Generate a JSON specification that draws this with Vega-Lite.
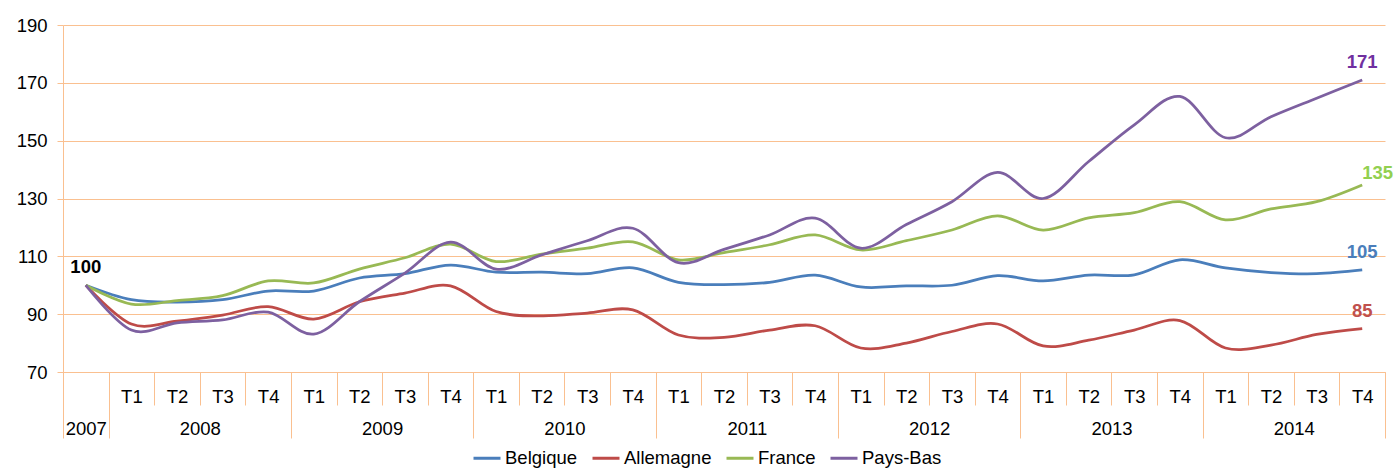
{
  "$schema": "https://vega.github.io/schema/vega-lite/v6.json",
  "width": 1322,
  "height": 347,
  "autosize": {"type": "none"},
  "padding": {"left": 63, "top": 25, "right": 11, "bottom": 101},
  "background": "white",
  "config": {"view": {"stroke": null}, "font": "Liberation Sans"},
  "datasets": {
    "indices": [
      {"idx":0,"periode":"2007","serie":"Belgique","valeur":100},{"idx":0,"periode":"2007","serie":"Allemagne","valeur":100},{"idx":0,"periode":"2007","serie":"France","valeur":100},{"idx":0,"periode":"2007","serie":"Pays-Bas","valeur":100},
      {"idx":1,"periode":"2008 T1","serie":"Belgique","valeur":95.0},{"idx":1,"periode":"2008 T1","serie":"Allemagne","valeur":86.6},{"idx":1,"periode":"2008 T1","serie":"France","valeur":93.5},{"idx":1,"periode":"2008 T1","serie":"Pays-Bas","valeur":84.5},
      {"idx":2,"periode":"2008 T2","serie":"Belgique","valeur":94.2},{"idx":2,"periode":"2008 T2","serie":"Allemagne","valeur":87.6},{"idx":2,"periode":"2008 T2","serie":"France","valeur":94.7},{"idx":2,"periode":"2008 T2","serie":"Pays-Bas","valeur":87.0},
      {"idx":3,"periode":"2008 T3","serie":"Belgique","valeur":95.0},{"idx":3,"periode":"2008 T3","serie":"Allemagne","valeur":89.7},{"idx":3,"periode":"2008 T3","serie":"France","valeur":96.4},{"idx":3,"periode":"2008 T3","serie":"Pays-Bas","valeur":88.0},
      {"idx":4,"periode":"2008 T4","serie":"Belgique","valeur":98.0},{"idx":4,"periode":"2008 T4","serie":"Allemagne","valeur":92.6},{"idx":4,"periode":"2008 T4","serie":"France","valeur":101.5},{"idx":4,"periode":"2008 T4","serie":"Pays-Bas","valeur":90.7},
      {"idx":5,"periode":"2009 T1","serie":"Belgique","valeur":98.0},{"idx":5,"periode":"2009 T1","serie":"Allemagne","valeur":88.3},{"idx":5,"periode":"2009 T1","serie":"France","valeur":100.8},{"idx":5,"periode":"2009 T1","serie":"Pays-Bas","valeur":83.1},
      {"idx":6,"periode":"2009 T2","serie":"Belgique","valeur":102.5},{"idx":6,"periode":"2009 T2","serie":"Allemagne","valeur":94.3},{"idx":6,"periode":"2009 T2","serie":"France","valeur":105.6},{"idx":6,"periode":"2009 T2","serie":"Pays-Bas","valeur":94.3},
      {"idx":7,"periode":"2009 T3","serie":"Belgique","valeur":104.0},{"idx":7,"periode":"2009 T3","serie":"Allemagne","valeur":97.3},{"idx":7,"periode":"2009 T3","serie":"France","valeur":109.5},{"idx":7,"periode":"2009 T3","serie":"Pays-Bas","valeur":104.2},
      {"idx":8,"periode":"2009 T4","serie":"Belgique","valeur":107.0},{"idx":8,"periode":"2009 T4","serie":"Allemagne","valeur":99.8},{"idx":8,"periode":"2009 T4","serie":"France","valeur":114.2},{"idx":8,"periode":"2009 T4","serie":"Pays-Bas","valeur":114.9},
      {"idx":9,"periode":"2010 T1","serie":"Belgique","valeur":104.5},{"idx":9,"periode":"2010 T1","serie":"Allemagne","valeur":90.9},{"idx":9,"periode":"2010 T1","serie":"France","valeur":108.2},{"idx":9,"periode":"2010 T1","serie":"Pays-Bas","valeur":105.6},
      {"idx":10,"periode":"2010 T2","serie":"Belgique","valeur":104.5},{"idx":10,"periode":"2010 T2","serie":"Allemagne","valeur":89.4},{"idx":10,"periode":"2010 T2","serie":"France","valeur":110.8},{"idx":10,"periode":"2010 T2","serie":"Pays-Bas","valeur":110.5},
      {"idx":11,"periode":"2010 T3","serie":"Belgique","valeur":104.0},{"idx":11,"periode":"2010 T3","serie":"Allemagne","valeur":90.4},{"idx":11,"periode":"2010 T3","serie":"France","valeur":112.8},{"idx":11,"periode":"2010 T3","serie":"Pays-Bas","valeur":115.4},
      {"idx":12,"periode":"2010 T4","serie":"Belgique","valeur":106.0},{"idx":12,"periode":"2010 T4","serie":"Allemagne","valeur":91.5},{"idx":12,"periode":"2010 T4","serie":"France","valeur":115.0},{"idx":12,"periode":"2010 T4","serie":"Pays-Bas","valeur":119.7},
      {"idx":13,"periode":"2011 T1","serie":"Belgique","valeur":101.0},{"idx":13,"periode":"2011 T1","serie":"Allemagne","valeur":82.8},{"idx":13,"periode":"2011 T1","serie":"France","valeur":108.8},{"idx":13,"periode":"2011 T1","serie":"Pays-Bas","valeur":107.8},
      {"idx":14,"periode":"2011 T2","serie":"Belgique","valeur":100.2},{"idx":14,"periode":"2011 T2","serie":"Allemagne","valeur":82.0},{"idx":14,"periode":"2011 T2","serie":"France","valeur":111.3},{"idx":14,"periode":"2011 T2","serie":"Pays-Bas","valeur":112.4},
      {"idx":15,"periode":"2011 T3","serie":"Belgique","valeur":101.0},{"idx":15,"periode":"2011 T3","serie":"Allemagne","valeur":84.5},{"idx":15,"periode":"2011 T3","serie":"France","valeur":114.0},{"idx":15,"periode":"2011 T3","serie":"Pays-Bas","valeur":117.4},
      {"idx":16,"periode":"2011 T4","serie":"Belgique","valeur":103.5},{"idx":16,"periode":"2011 T4","serie":"Allemagne","valeur":86.0},{"idx":16,"periode":"2011 T4","serie":"France","valeur":117.4},{"idx":16,"periode":"2011 T4","serie":"Pays-Bas","valeur":123.2},
      {"idx":17,"periode":"2012 T1","serie":"Belgique","valeur":99.4},{"idx":17,"periode":"2012 T1","serie":"Allemagne","valeur":78.3},{"idx":17,"periode":"2012 T1","serie":"France","valeur":112.2},{"idx":17,"periode":"2012 T1","serie":"Pays-Bas","valeur":112.8},
      {"idx":18,"periode":"2012 T2","serie":"Belgique","valeur":99.8},{"idx":18,"periode":"2012 T2","serie":"Allemagne","valeur":80.0},{"idx":18,"periode":"2012 T2","serie":"France","valeur":115.4},{"idx":18,"periode":"2012 T2","serie":"Pays-Bas","valeur":121.0},
      {"idx":19,"periode":"2012 T3","serie":"Belgique","valeur":100.0},{"idx":19,"periode":"2012 T3","serie":"Allemagne","valeur":84.0},{"idx":19,"periode":"2012 T3","serie":"France","valeur":119.1},{"idx":19,"periode":"2012 T3","serie":"Pays-Bas","valeur":128.9},
      {"idx":20,"periode":"2012 T4","serie":"Belgique","valeur":103.3},{"idx":20,"periode":"2012 T4","serie":"Allemagne","valeur":86.6},{"idx":20,"periode":"2012 T4","serie":"France","valeur":124.0},{"idx":20,"periode":"2012 T4","serie":"Pays-Bas","valeur":139.0},
      {"idx":21,"periode":"2013 T1","serie":"Belgique","valeur":101.5},{"idx":21,"periode":"2013 T1","serie":"Allemagne","valeur":79.0},{"idx":21,"periode":"2013 T1","serie":"France","valeur":119.1},{"idx":21,"periode":"2013 T1","serie":"Pays-Bas","valeur":130.0},
      {"idx":22,"periode":"2013 T2","serie":"Belgique","valeur":103.5},{"idx":22,"periode":"2013 T2","serie":"Allemagne","valeur":81.0},{"idx":22,"periode":"2013 T2","serie":"France","valeur":123.3},{"idx":22,"periode":"2013 T2","serie":"Pays-Bas","valeur":142.8},
      {"idx":23,"periode":"2013 T3","serie":"Belgique","valeur":103.6},{"idx":23,"periode":"2013 T3","serie":"Allemagne","valeur":84.5},{"idx":23,"periode":"2013 T3","serie":"France","valeur":125.1},{"idx":23,"periode":"2013 T3","serie":"Pays-Bas","valeur":155.5},
      {"idx":24,"periode":"2013 T4","serie":"Belgique","valeur":108.8},{"idx":24,"periode":"2013 T4","serie":"Allemagne","valeur":87.8},{"idx":24,"periode":"2013 T4","serie":"France","valeur":128.9},{"idx":24,"periode":"2013 T4","serie":"Pays-Bas","valeur":165.3},
      {"idx":25,"periode":"2014 T1","serie":"Belgique","valeur":106.0},{"idx":25,"periode":"2014 T1","serie":"Allemagne","valeur":78.3},{"idx":25,"periode":"2014 T1","serie":"France","valeur":122.6},{"idx":25,"periode":"2014 T1","serie":"Pays-Bas","valeur":151.0},
      {"idx":26,"periode":"2014 T2","serie":"Belgique","valeur":104.4},{"idx":26,"periode":"2014 T2","serie":"Allemagne","valeur":79.3},{"idx":26,"periode":"2014 T2","serie":"France","valeur":126.4},{"idx":26,"periode":"2014 T2","serie":"Pays-Bas","valeur":158.3},
      {"idx":27,"periode":"2014 T3","serie":"Belgique","valeur":104.0},{"idx":27,"periode":"2014 T3","serie":"Allemagne","valeur":83.0},{"idx":27,"periode":"2014 T3","serie":"France","valeur":128.9},{"idx":27,"periode":"2014 T3","serie":"Pays-Bas","valeur":164.7},
      {"idx":28,"periode":"2014 T4","serie":"Belgique","valeur":105.3},{"idx":28,"periode":"2014 T4","serie":"Allemagne","valeur":85.0},{"idx":28,"periode":"2014 T4","serie":"France","valeur":134.7},{"idx":28,"periode":"2014 T4","serie":"Pays-Bas","valeur":171.0}
    ]
  },
  "data": {"name": "indices"},
  "layer": [
    {
      "mark": {"type": "line", "interpolate": "cardinal", "strokeWidth": 2.75},
      "encoding": {
        "x": {
          "field": "idx", "type": "quantitative",
          "scale": {"domain": [-0.5, 28.5], "nice": false, "zero": false},
          "axis": {
            "orient": "bottom", "title": null, "grid": false,
            "values": [-0.5,0.5,1.5,2.5,3.5,4.5,5.5,6.5,7.5,8.5,9.5,10.5,11.5,12.5,13.5,14.5,15.5,16.5,17.5,18.5,19.5,20.5,21.5,22.5,23.5,24.5,25.5,26.5,27.5,28.5],
            "domain": true, "domainColor": "#FAC090", "domainWidth": 1,
            "ticks": true, "tickSize": 33, "tickColor": "#FAC090", "tickWidth": 1,
            "labelExpr": "(datum.value + 0.5 >= 1 && datum.value + 0.5 <= 28) ? 'T' + ((datum.value + 0.5 - 1) % 4 + 1) : ''",
            "labelOffset": 22.8, "labelBaseline": "alphabetic", "labelPadding": -3,
            "labelAlign": "center", "labelFontSize": 18.5, "labelColor": "#000000",
            "labelOverlap": false, "labelBound": false, "labelFlush": false
          }
        },
        "y": {
          "field": "valeur", "type": "quantitative",
          "scale": {"domain": [70, 190], "nice": false, "zero": false},
          "axis": {
            "title": null, "values": [70, 90, 110, 130, 150, 170, 190],
            "grid": true, "gridColor": "#FAC090", "gridWidth": 1,
            "domain": true, "domainColor": "#FAC090",
            "ticks": true, "tickSize": 6, "tickColor": "#FAC090",
            "labelPadding": 10, "labelFontSize": 18.5, "labelColor": "#000000"
          }
        },
        "color": {
          "field": "serie", "type": "nominal",
          "scale": {"domain": ["Belgique", "Allemagne", "France", "Pays-Bas"], "range": ["#4A7EBB", "#BE4B48", "#98B954", "#7D60A0"]},
          "legend": {
            "orient": "none", "legendX": 409, "legendY": 418, "direction": "horizontal", "columns": 4,
            "title": null, "symbolType": "stroke", "symbolStrokeWidth": 3, "symbolSize": 729,
            "labelFontSize": 18.5, "labelColor": "#000000", "columnPadding": 8, "labelOffset": 3,
            "padding": 0, "labelLimit": 200
          }
        }
      }
    },
    {
      "transform": [{"filter": "datum.idx == 28 && datum.serie != 'France'"}],
      "mark": {"type": "text", "fontWeight": "bold", "fontSize": 18.5, "align": "center", "baseline": "alphabetic", "dy": -12},
      "encoding": {
        "x": {
          "field": "idx", "type": "quantitative",
          "scale": {"domain": [-0.5, 28.5], "nice": false, "zero": false},
          "axis": {
            "orient": "bottom", "title": null, "grid": false, "domain": false, "ticks": false,
            "values": [0, 2.5, 6.5, 10.5, 14.5, 18.5, 22.5, 26.5],
            "labelExpr": "datum.value == 0 ? '2007' : '' + (2008 + (datum.value - 2.5) / 4)",
            "labelBaseline": "alphabetic", "labelPadding": 62, "labelAlign": "center",
            "labelFontSize": 18.5, "labelColor": "#000000",
            "labelOverlap": false, "labelBound": false, "labelFlush": false
          }
        },
        "y": {"field": "valeur", "type": "quantitative"},
        "text": {"field": "valeur", "type": "quantitative", "format": ".0f"},
        "color": {
          "field": "serie", "type": "nominal",
          "scale": {"domain": ["Belgique", "Allemagne", "France", "Pays-Bas"], "range": ["#4A7EBB", "#C0504D", "#92D050", "#7030A0"]},
          "legend": null
        }
      }
    },
    {
      "transform": [{"filter": "datum.idx == 0 && datum.serie == 'Belgique'"}],
      "mark": {"type": "text", "fontWeight": "bold", "fontSize": 18.5, "align": "center", "baseline": "alphabetic", "dy": -12, "color": "#000000"},
      "encoding": {
        "x": {
          "field": "idx", "type": "quantitative",
          "scale": {"domain": [-0.5, 28.5], "nice": false, "zero": false},
          "axis": {
            "orient": "bottom", "title": null, "grid": false, "domain": false, "labels": false,
            "values": [-0.5, 0.5, 4.5, 8.5, 12.5, 16.5, 20.5, 24.5, 28.5],
            "ticks": true, "tickSize": 66, "tickColor": "#FAC090", "tickWidth": 1
          }
        },
        "y": {"field": "valeur", "type": "quantitative"},
        "text": {"field": "valeur", "type": "quantitative", "format": ".0f"}
      }
    },
    {
      "transform": [{"filter": "datum.idx == 28 && datum.serie == 'France'"}],
      "mark": {"type": "text", "fontWeight": "bold", "fontSize": 18.5, "align": "left", "baseline": "alphabetic", "dy": -6, "color": "#92D050"},
      "encoding": {
        "x": {
          "field": "idx", "type": "quantitative",
          "scale": {"domain": [-0.5, 28.5], "nice": false, "zero": false},
          "axis": null
        },
        "y": {"field": "valeur", "type": "quantitative"},
        "text": {"field": "valeur", "type": "quantitative", "format": ".0f"}
      }
    }
  ],
  "resolve": {"scale": {"x": "independent", "color": "independent"}}
}
